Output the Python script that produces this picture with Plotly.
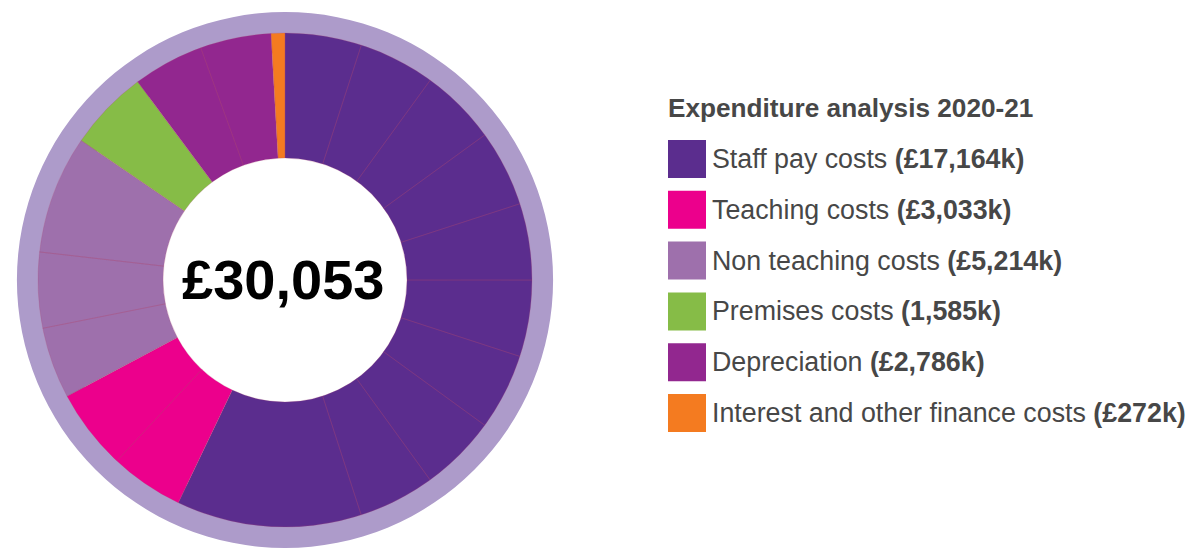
import plotly.graph_objects as go

# ---------------- data ----------------
categories = ["Staff pay costs", "Teaching costs", "Non teaching costs",
              "Premises costs", "Depreciation", "Interest and other finance costs"]
values_k = [17164, 3033, 5214, 1585, 2786, 272]
amount_labels = ["£17,164k", "£3,033k", "£5,214k", "1,585k", "£2,786k", "£272k"]
colors = ["#5b2d8e", "#ec008c", "#9e70ac", "#86bc47", "#92278f", "#f47b20"]

# visual sub-segments inside each category (in £k)
staff_segments = [1503, 1503, 1503, 1503, 1503, 1503, 1503, 1503, 1503, 3637]
teaching_segments = [1444, 1589]
non_teaching_segments = [1402, 1486, 2326]
premises_segments = [1585]
depreciation_segments = [1393, 1393]
interest_segments = [272]

total_label = "£30,053"
chart_title = "Expenditure analysis 2020-21"

# ---------------- layout constants ----------------
W, H = 1189, 548
CX, CY = 285, 280          # pie centre (px, from top-left)
R_RING, R_PIE, R_HOLE = 268, 247, 122
RING_COLOR = "#ad9bca"
TEXT_COLOR = "#474747"
FONT = "Liberation Sans, Arial, Helvetica, sans-serif"


def domain(r):
    return dict(x=[(CX - r) / W, (CX + r) / W],
                y=[(H - CY - r) / H, (H - CY + r) / H])


seg_values = (staff_segments + teaching_segments + non_teaching_segments
              + premises_segments + depreciation_segments + interest_segments)
seg_labels = [f"seg{i}" for i in range(len(seg_values))]

fig = go.Figure()

# outer light-purple ring
fig.add_trace(go.Pie(
    values=[1], labels=["ring"], domain=domain(R_RING), hole=0.85,
    marker=dict(colors=[RING_COLOR], line=dict(width=0)),
    textinfo="none", hoverinfo="skip", sort=False, showlegend=False))

# main donut
fig.add_trace(go.Pie(
    values=values_k, labels=categories, domain=domain(R_PIE), hole=R_HOLE / R_PIE,
    marker=dict(colors=colors, line=dict(width=0)),
    sort=False, direction="clockwise", rotation=0,
    textinfo="none", hovertemplate="%{label}: £%{value:,}k<extra></extra>",
    showlegend=False))

# thin segment lines
fig.add_trace(go.Pie(
    values=seg_values, labels=seg_labels, domain=domain(R_PIE), hole=R_HOLE / R_PIE,
    marker=dict(colors=["rgba(0,0,0,0)"] * len(seg_values),
                line=dict(color="rgba(175,70,110,0.38)", width=0.6)),
    sort=False, direction="clockwise", rotation=0,
    textinfo="none", hoverinfo="skip", showlegend=False))

annotations = [
    dict(text=f"<b>{total_label}</b>", x=(CX - 2) / W, y=1 - 279 / H, xref="paper", yref="paper",
         xanchor="center", yanchor="middle", showarrow=False,
         font=dict(family=FONT, size=56, color="#000000")),
    dict(text=f"<b>{chart_title}</b>", x=666 / W, y=1 - 108 / H, xref="paper", yref="paper",
         xanchor="left", yanchor="middle", showarrow=False,
         font=dict(family=FONT, size=26.2, color=TEXT_COLOR)),
]
shapes = []
ROW0, ROW_STEP, SQ = 159, 50.8, 38
for i, (cat, amt, col) in enumerate(zip(categories, amount_labels, colors)):
    yc = ROW0 + i * ROW_STEP
    shapes.append(dict(type="rect", xref="paper", yref="paper",
                       x0=668 / W, x1=(668 + SQ) / W,
                       y0=1 - (yc + SQ / 2) / H, y1=1 - (yc - SQ / 2) / H,
                       fillcolor=col, line=dict(width=0)))
    annotations.append(dict(text=f"{cat} <b>({amt})</b>", x=710 / W, y=1 - yc / H,
                            xref="paper", yref="paper", xanchor="left", yanchor="middle",
                            showarrow=False,
                            font=dict(family=FONT, size=26.8, color=TEXT_COLOR)))

fig.update_layout(
    width=W, height=H, margin=dict(l=0, r=0, t=0, b=0, pad=0),
    paper_bgcolor="white", plot_bgcolor="white",
    showlegend=False, annotations=annotations, shapes=shapes,
)

fig.write_html("out.html")
